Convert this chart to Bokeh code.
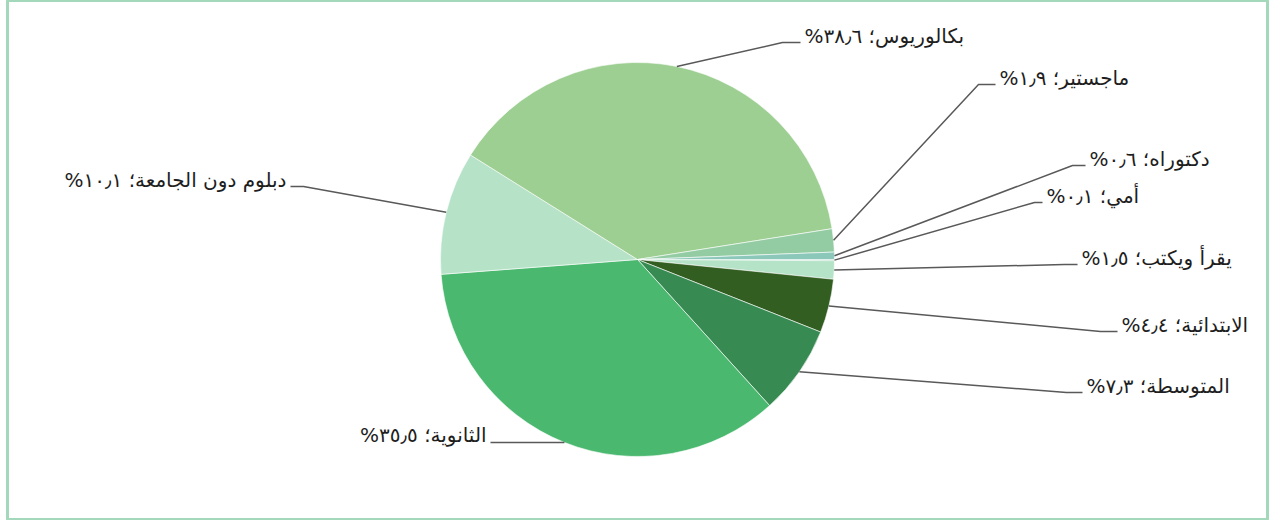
import math
from bokeh.plotting import figure
from bokeh.models import Range1d, ColumnDataSource
from bokeh.core.properties import value
from bokeh.embed import file_html
from bokeh.resources import INLINE

# ---- data ----
categories = ["أمي", "يقرأ ويكتب", "الابتدائية", "المتوسطة", "الثانوية",
              "دبلوم دون الجامعة", "بكالوريوس", "ماجستير", "دكتوراه"]
shares = [0.1, 1.5, 4.4, 7.3, 35.5, 10.1, 38.6, 1.9, 0.6]
colors = ["#5FA97C", "#B5E3C8", "#325E22", "#378A51", "#4AB86E",
          "#B6E2C8", "#9DCF92", "#93CCA3", "#8CC8BA"]

# ---- layout (reference pixel coordinates) ----
W, H = 1273, 520
def px(x): return x
def py(y): return H - y

CX, CY, R = px(637), py(259), 197
# elbow of each leader line (None = no elbow) and end of its horizontal part
elbows = [(1034, 202), (1064, 264), (1100, 331), (1066, 392), None,
          (303, 186), (782, 42), (978, 84), (1072, 165)]
ends_x = [1042, 1077, 1117, 1082, 490, 290, 800, 995, 1085]

digits = str.maketrans("0123456789.", "٠١٢٣٤٥٦٧٨٩٫")
def fmt(v):
    return f"{v:.1f}".translate(digits)

total = sum(shares)
starts, stops, mids = [], [], []
acc = 0.0
for v in shares:
    a0 = acc / total * 2 * math.pi
    acc += v
    a1 = acc / total * 2 * math.pi
    # clockwise from 3 o'clock
    starts.append(-a1)
    stops.append(-a0)
    mids.append(-(a0 + a1) / 2)

p = figure(width=W, height=H, x_range=Range1d(7, 1267), y_range=Range1d(1, 520),
           output_backend="svg", toolbar_location=None,
           x_axis_type=None, y_axis_type=None,
           min_border_left=7, min_border_right=6, min_border_top=0, min_border_bottom=1)
p.grid.visible = False
p.outline_line_color = "#A3D9BA"
p.outline_line_width = 3
p.background_fill_color = "white"
p.border_fill_color = "white"

src = ColumnDataSource(dict(start=starts, end=stops, color=colors, cat=categories))
p.wedge(x=CX, y=CY, radius=R, start_angle="start", end_angle="end",
        fill_color="color", line_color="white", line_width=0.6, source=src)

xs, ys, tx, ty, ta, tt = [], [], [], [], [], []
for i, m in enumerate(mids):
    sx = CX + R * math.cos(m)
    sy = CY + R * math.sin(m)
    if elbows[i] is None:
        ex, ey = sx, sy
    else:
        ex, ey = px(elbows[i][0]), py(elbows[i][1])
    endx = px(ends_x[i])
    xs.append([sx, ex, endx])
    ys.append([sy, ey, ey])
    right = endx > CX
    tx.append(endx + 4 if right else endx - 4)
    ty.append(ey + 7)
    ta.append("left" if right else "right")
    tt.append(categories[i] + "؛ " + fmt(shares[i]) + "%" + "\u200f")

p.multi_line(xs=xs, ys=ys, line_color="#595959", line_width=1.5)

lab = ColumnDataSource(dict(x=tx, y=ty, text=tt, align=ta))
p.text(x="x", y="y", text="text", text_align="align", text_baseline="middle",
       text_font=value("DejaVu Sans"), text_font_size="20px",
       text_color="#1E1E1E", source=lab)

open("out.html", "w").write(file_html(p, INLINE))
